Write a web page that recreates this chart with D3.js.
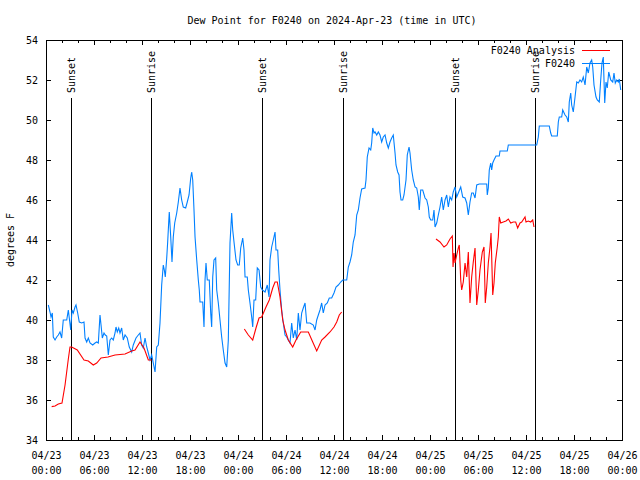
<!DOCTYPE html>
<html><head><meta charset="utf-8">
<script src="https://cdn.jsdelivr.net/npm/d3@7/dist/d3.min.js"></script>
<style>
body{margin:0;background:#fff}
svg{display:block}
text{font-family:"DejaVu Sans Mono","Liberation Mono",monospace;font-size:10px;fill:#000}
</style></head>
<body><svg id="c" width="640" height="480"></svg>
<script>
// ---- data (hours after 2024-04-23 00:00 UTC, degrees F) ----
const titleText = "Dew Point for F0240 on 2024-Apr-23 (time in UTC)";
const yLabel = "degrees F";
const seriesNames = ["F0240 Analysis", "F0240"];
const yTicks = [34,36,38,40,42,44,46,48,50,52,54];

const obsHours = [0.29,0.5,0.63,0.79,0.91,1.13,1.34,1.54,1.75,1.96,2.16,2.59,2.79,2.91,3.09,3.25,3.41,3.63,3.75,3.96,4.16,4.46,4.75,4.88,5.09,5.29,5.5,5.84,6.13,6.34,6.54,6.75,6.88,7.04,7.25,7.41,7.59,7.79,8.0,8.21,8.41,8.63,8.75,8.91,9.09,9.25,9.46,9.66,9.88,10.16,10.41,10.71,10.91,11.25,11.54,11.75,11.96,12.16,12.38,12.59,12.79,13.0,13.21,13.41,13.63,13.84,14.04,14.25,14.46,14.66,14.79,14.91,15.09,15.21,15.34,15.41,15.59,15.75,15.91,16.09,16.34,16.54,16.75,16.96,17.16,17.46,17.66,17.88,18.09,18.21,18.34,18.5,18.63,18.84,19.04,19.16,19.25,19.59,19.75,19.88,20.0,20.16,20.41,20.59,20.71,20.84,21.0,21.21,21.34,21.54,21.75,21.96,22.16,22.38,22.59,22.79,23.0,23.21,23.34,23.5,23.75,23.96,24.16,24.34,24.59,24.75,24.88,25.16,25.29,25.5,25.71,25.84,26.0,26.21,26.41,26.63,26.84,27.04,27.38,27.66,27.88,28.0,28.21,28.41,28.63,28.75,28.96,29.09,29.25,29.46,29.66,29.88,30.09,30.29,30.5,30.71,30.91,31.13,31.34,31.54,31.75,31.96,32.16,32.38,32.59,33.0,33.41,33.63,33.84,34.04,34.25,34.46,34.66,34.88,35.16,35.41,35.71,36.0,36.25,36.54,36.84,37.09,37.59,37.79,38.0,38.21,38.41,38.63,38.84,39.04,39.25,39.46,39.88,40.0,40.16,40.38,40.59,40.71,40.84,41.0,41.13,41.34,41.54,41.75,41.96,42.16,42.38,42.59,42.79,43.0,43.21,43.41,43.63,43.75,43.96,44.13,44.25,44.38,44.59,44.75,45.0,45.16,45.38,45.5,45.71,45.91,46.13,46.34,46.54,46.66,46.84,47.09,47.38,47.59,47.79,47.91,48.09,48.34,48.5,48.63,48.84,49.04,49.25,49.46,49.66,49.88,50.09,50.29,50.5,50.71,50.91,51.13,51.34,51.54,51.84,52.09,52.38,52.59,52.79,53.0,53.21,53.41,53.63,53.84,54.16,54.66,55.09,55.16,55.29,55.41,55.59,55.71,55.84,56.0,56.25,56.66,56.75,57.66,57.79,61.34,61.54,61.66,62.91,63.09,63.21,63.91,64.04,64.16,64.46,64.59,64.88,65.09,65.29,65.41,65.59,65.71,65.91,66.13,66.34,66.54,66.75,66.96,67.16,67.38,67.59,67.79,68.0,68.21,68.34,68.5,68.75,68.91,69.16,69.34,69.5,69.66,69.84,70.0,70.16,70.34,70.59,70.84,71.0,71.16,71.34,71.54,71.66,71.84];
const obsDewF = [40.75,40.4,40.15,40.35,39.15,39.0,39.15,39.25,39.4,39.1,40.0,40.0,40.5,40.1,39.5,40.5,40.35,40.65,40.75,40.35,39.9,39.85,39.9,39.1,38.9,39.1,38.85,38.75,38.85,38.9,38.85,40.25,39.75,39.1,39.35,39.25,39.2,38.25,39.0,39.1,39.0,39.35,39.65,39.4,39.6,39.35,39.6,39.0,39.25,39.1,38.65,38.4,38.75,39.1,39.25,39.35,38.75,38.6,39.1,38.65,38.35,38.0,38.25,37.85,37.4,38.65,38.75,39.85,41.75,42.75,42.5,42.15,43.1,43.9,44.9,45.4,44.15,42.9,44.15,44.85,45.35,45.9,46.6,46.0,45.65,45.6,45.9,46.25,47.1,47.4,47.0,45.5,44.15,43.0,42.0,41.5,40.9,40.9,39.65,42.0,42.85,42.0,42.0,40.35,39.65,42.15,43.0,43.1,41.5,40.85,40.0,39.15,38.5,37.85,37.65,39.0,43.85,45.35,44.5,43.9,43.0,42.75,42.75,43.6,44.1,43.5,42.15,42.15,41.5,40.85,40.15,39.65,41.0,41.0,42.6,42.5,41.65,41.5,41.4,41.75,41.15,43.0,43.65,44.0,44.4,43.5,43.5,42.5,41.5,40.5,39.85,39.25,39.15,39.0,38.85,39.85,39.1,39.5,39.0,40.35,39.5,40.35,40.6,40.85,39.85,39.85,39.75,39.5,40.0,40.25,40.5,40.85,40.35,40.75,40.85,41.1,41.1,41.35,41.65,41.75,41.9,42.0,42.0,42.65,42.9,43.25,43.9,44.25,45.25,45.5,46.1,46.55,46.6,47.0,48.15,48.6,48.5,48.85,49.6,49.35,49.4,49.25,49.4,49.25,48.9,49.15,49.25,48.85,48.6,48.9,49.1,49.25,48.35,47.75,47.4,47.25,46.4,46.0,46.0,46.25,47.0,48.25,48.65,48.35,47.5,47.0,46.65,46.6,46.15,45.5,46.5,46.5,46.1,46.0,45.65,45.15,45.0,45.0,45.5,44.65,44.85,45.25,45.65,46.15,45.5,46.0,46.25,45.65,46.15,46.0,46.4,46.65,46.15,46.35,46.65,46.15,46.1,45.85,45.25,45.9,46.35,46.35,46.1,46.75,46.8,46.8,46.8,46.25,46.6,47.5,47.85,47.5,47.85,48.0,48.2,48.2,48.45,48.45,48.75,48.75,49.15,49.7,49.7,49.35,49.2,49.2,49.9,50.15,50.15,50.5,50.25,50.15,49.9,50.9,51.35,50.75,50.4,51.15,51.9,51.85,52.0,51.9,52.15,51.75,52.65,52.35,52.85,53.0,52.65,51.75,51.15,51.0,50.9,52.0,52.85,53.15,50.85,51.9,51.6,52.4,52.0,51.9,52.35,51.85,52.0,51.9,52.05,51.5];

const anaHours = [0.71,1.13,1.54,2.0,2.38,2.79,3.0,3.21,3.91,4.75,5.29,5.91,6.34,6.88,7.75,8.63,9.88,10.71,11.13,11.75,12.25,12.79,13.21,
  18.0,
  24.79,25.29,25.84,26.25,26.63,26.96,27.5,27.91,28.34,28.63,28.91,29.25,29.59,29.88,30.29,30.84,31.25,31.84,32.79,33.34,33.84,34.46,34.88,35.5,36.0,36.34,36.66,36.96,
  42.0,
  48.75,49.25,49.75,50.09,50.5,50.79,50.88,51.0,51.13,51.34,51.54,51.66,51.84,51.96,52.16,52.38,52.59,52.79,53.0,53.21,53.41,53.63,53.84,54.04,54.25,54.54,54.75,54.91,55.09,55.29,55.5,55.63,55.84,56.0,56.16,56.41,56.54,56.66,56.84,57.16,57.5,57.79,58.09,58.41,58.71,58.96,59.25,59.46,59.88,60.0,60.29,60.59,60.84,61.0];
const anaDewF = [35.67,35.7,35.8,35.85,36.75,38.05,38.65,38.65,38.5,38.0,37.95,37.75,37.85,38.1,38.15,38.25,38.3,38.45,38.5,38.9,38.6,38.0,38.0,
  null,
  39.55,39.25,39.0,39.6,40.1,40.15,40.65,41.0,41.6,41.9,41.9,41.15,40.0,39.5,39.0,38.65,39.0,39.4,39.4,38.9,38.45,39.0,39.15,39.4,39.65,39.9,40.25,40.4,
  null,
  44.05,43.9,43.65,43.75,44.05,44.2,42.65,43.35,42.85,43.25,43.6,43.75,42.0,41.5,41.9,42.85,42.15,43.4,40.85,42.15,42.9,43.6,40.75,41.5,42.5,43.4,43.65,40.85,41.65,42.85,43.65,44.35,41.25,41.85,42.85,43.65,44.15,45.15,44.85,44.9,44.95,45.05,44.85,44.9,44.9,44.6,44.85,44.9,45.15,44.9,44.95,44.9,45.0,44.65];

const eventHours = [3.12, 13.12, 27.03, 37.12, 51.13, 61.12];
const eventLabels = ["Sunset","Sunrise","Sunset","Sunrise","Sunset","Sunrise"];

// ---- setup ----
const W = 640, H = 480;
const m = {left:46, right:622, top:40, bottom:440};
const t0 = Date.UTC(2024,3,23,0,0);
const toDate = h => new Date(t0 + h*3600e3);
const x = d3.scaleUtc().domain([toDate(0), toDate(72)]).range([m.left, m.right]);
const y = d3.scaleLinear().domain([34,54]).range([m.bottom, m.top]);
const svg = d3.select("#c");
const colors = ["#ff0000", "#0080ff"];

// title
svg.append("text").attr("x", 332).attr("y", 24).attr("text-anchor","middle").text(titleText);
// y label
svg.append("text").attr("transform","translate(14,240) rotate(-90)").attr("text-anchor","middle").text(yLabel);

const axG = svg.append("g").attr("shape-rendering","crispEdges");

// bottom axis major with labels
const fmtD = d3.utcFormat("%m/%d"), fmtT = d3.utcFormat("%H:%M");
const bMaj = axG.append("g").attr("transform",`translate(0,${m.bottom})`)
  .call(d3.axisBottom(x).ticks(d3.utcHour.every(6)).tickSizeInner(-5).tickSizeOuter(0).tickPadding(10).tickFormat(d=>""));
bMaj.selectAll(".tick text").each(function(d){
  const t = d3.select(this);
  t.attr("y", 0).attr("dy", null);
  t.append("tspan").attr("x",0).attr("y",19).text(fmtD(d));
  t.append("tspan").attr("x",0).attr("y",34).text(fmtT(d));
});
axG.append("g").attr("transform",`translate(0,${m.bottom})`)
  .call(d3.axisBottom(x).ticks(d3.utcHour.every(2)).tickSizeInner(-3).tickSizeOuter(0).tickFormat(""));
// top
axG.append("g").attr("transform",`translate(0,${m.top})`)
  .call(d3.axisTop(x).ticks(d3.utcHour.every(6)).tickSizeInner(-5).tickSizeOuter(0).tickFormat(""));
axG.append("g").attr("transform",`translate(0,${m.top})`)
  .call(d3.axisTop(x).ticks(d3.utcHour.every(2)).tickSizeInner(-3).tickSizeOuter(0).tickFormat(""));
// left
axG.append("g").attr("transform",`translate(${m.left},0)`)
  .call(d3.axisLeft(y).tickValues(yTicks).tickSizeInner(-5).tickSizeOuter(0).tickPadding(8).tickFormat(d3.format("d")));
// right
axG.append("g").attr("transform",`translate(${m.right},0)`)
  .call(d3.axisRight(y).tickValues(yTicks).tickSizeInner(-5).tickSizeOuter(0).tickFormat(""));
axG.selectAll(".domain").remove();
axG.selectAll(".tick line").attr("stroke","#000");
axG.selectAll("text").attr("font-family",null).attr("font-size",null).attr("fill","#000");
axG.selectAll(".tick").filter(function(){return this.parentNode.getAttribute("transform").startsWith(`translate(${m.left}`)}).select("text").attr("dy","0.35em");

// event lines
const ev = svg.append("g");
eventHours.forEach((h,i)=>{
  const xx = Math.round(x(toDate(h))) + 0.5;
  ev.append("line").attr("x1",xx).attr("x2",xx).attr("y1",98).attr("y2",m.bottom).attr("stroke","#000").attr("stroke-width",1);
  ev.append("text").attr("transform",`translate(${xx},93) rotate(-90)`).attr("dy","0.36em").text(eventLabels[i]);
});

// series
const line = d3.line().defined(d=>d[1]!=null).x(d=>x(toDate(d[0]))).y(d=>y(d[1]));
const obs = obsHours.map((h,i)=>[h, obsDewF[i]]);
const ana = anaHours.map((h,i)=>[h, anaDewF[i]]);
svg.append("path").datum(obs).attr("d",line).attr("fill","none").attr("stroke",colors[1]).attr("stroke-width",1.1);
svg.append("path").datum(ana).attr("d",line).attr("fill","none").attr("stroke",colors[0]).attr("stroke-width",1.1);

// frame
svg.append("rect").attr("x",m.left+0.5).attr("y",m.top+0.5).attr("width",m.right-m.left).attr("height",m.bottom-m.top)
  .attr("fill","none").attr("stroke","#000").attr("shape-rendering","crispEdges");

// legend
const lg = svg.append("g");
seriesNames.forEach((n,i)=>{
  const ly = 50 + i*13;
  lg.append("text").attr("x",575).attr("y",ly).attr("dy","0.35em").attr("text-anchor","end").text(n);
  lg.append("line").attr("x1",582).attr("x2",610).attr("y1",ly+0.5).attr("y2",ly+0.5).attr("stroke",colors[i]).attr("stroke-width",1);
});
</script></body></html>
